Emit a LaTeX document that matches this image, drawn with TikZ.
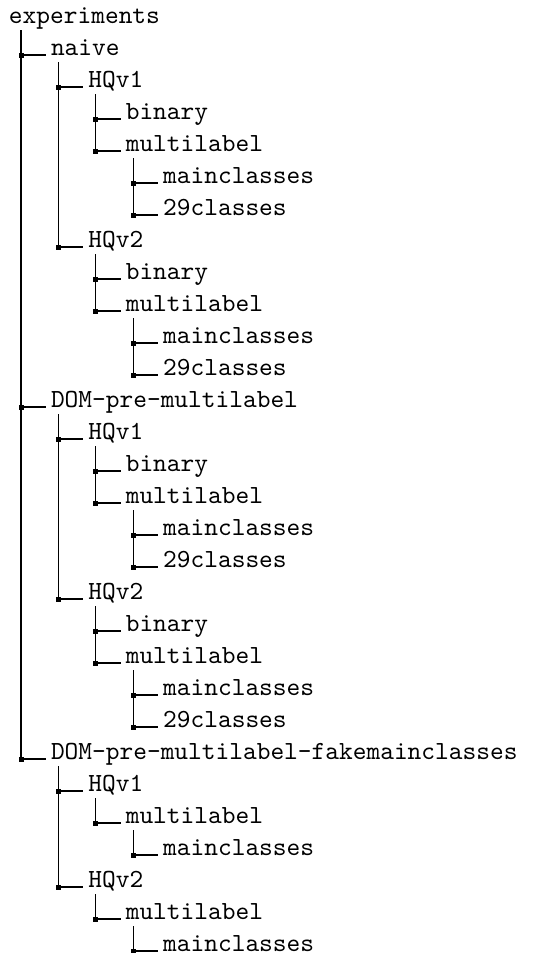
\documentclass[tikz,border=0pt]{standalone}
\usepackage{fontspec}
\setmonofont{lmmono10-regular.otf}
% directory tree of the experiment folders
\tikzset{
  lbl/.style={anchor=base west, inner sep=0pt, outer sep=0pt,
    font=\fontsize{9.8}{12}\selectfont\ttfamily},
  tline/.style={draw=black, line width=0.45pt},
  tdot/.style={fill=black}
}
% \kid{parent}{child}{offset of the parent's rule}
\newcommand{\kid}[3]{%
  \draw[tline] ([shift={(#3,7)}]#1.base west) |- ([shift={(-5,0)}]#2.base west);
  \fill[tdot] ([shift={(-32.5,-2.5)}]#2.base west) rectangle ++(5,5);
}
\begin{document}
\begin{tikzpicture}[x=0.375pt,y=-0.375pt]
\useasboundingbox (0,0) rectangle (533,953);
\def\rh{32}
% folder labels, one per row
\node[lbl] (ex)    at (9,    {23+0*\rh})  {experiments};
\node[lbl] (a)     at (51,   {23+1*\rh})  {naive};
\node[lbl] (a1)    at (88.4, {23+2*\rh})  {HQv1};
\node[lbl] (a1b)   at (125.8,{23+3*\rh})  {binary};
\node[lbl] (a1m)   at (125.8,{23+4*\rh})  {multilabel};
\node[lbl] (a1mm)  at (163.2,{23+5*\rh})  {mainclasses};
\node[lbl] (a1mn)  at (163.2,{23+6*\rh})  {29classes};
\node[lbl] (a2)    at (88.4, {23+7*\rh})  {HQv2};
\node[lbl] (a2b)   at (125.8,{23+8*\rh})  {binary};
\node[lbl] (a2m)   at (125.8,{23+9*\rh})  {multilabel};
\node[lbl] (a2mm)  at (163.2,{23+10*\rh}) {mainclasses};
\node[lbl] (a2mn)  at (163.2,{23+11*\rh}) {29classes};
\node[lbl] (b)     at (51,   {23+12*\rh}) {DOM-pre-multilabel};
\node[lbl] (b1)    at (88.4, {23+13*\rh}) {HQv1};
\node[lbl] (b1b)   at (125.8,{23+14*\rh}) {binary};
\node[lbl] (b1m)   at (125.8,{23+15*\rh}) {multilabel};
\node[lbl] (b1mm)  at (163.2,{23+16*\rh}) {mainclasses};
\node[lbl] (b1mn)  at (163.2,{23+17*\rh}) {29classes};
\node[lbl] (b2)    at (88.4, {23+18*\rh}) {HQv2};
\node[lbl] (b2b)   at (125.8,{23+19*\rh}) {binary};
\node[lbl] (b2m)   at (125.8,{23+20*\rh}) {multilabel};
\node[lbl] (b2mm)  at (163.2,{23+21*\rh}) {mainclasses};
\node[lbl] (b2mn)  at (163.2,{23+22*\rh}) {29classes};
\node[lbl] (c)     at (51,   {23+23*\rh}) {DOM-pre-multilabel-fakemainclasses};
\node[lbl] (c1)    at (88.4, {23+24*\rh}) {HQv1};
\node[lbl] (c1m)   at (125.8,{23+25*\rh}) {multilabel};
\node[lbl] (c1mm)  at (163.2,{23+26*\rh}) {mainclasses};
\node[lbl] (c2)    at (88.4, {23+27*\rh}) {HQv2};
\node[lbl] (c2m)   at (125.8,{23+28*\rh}) {multilabel};
\node[lbl] (c2mm)  at (163.2,{23+29*\rh}) {mainclasses};
% branches
\kid{ex}{a}{12} \kid{ex}{b}{12} \kid{ex}{c}{12}
\kid{a}{a1}{7.4} \kid{a}{a2}{7.4}
\kid{a1}{a1b}{7.4} \kid{a1}{a1m}{7.4}
\kid{a1m}{a1mm}{7.4} \kid{a1m}{a1mn}{7.4}
\kid{a2}{a2b}{7.4} \kid{a2}{a2m}{7.4}
\kid{a2m}{a2mm}{7.4} \kid{a2m}{a2mn}{7.4}
\kid{b}{b1}{7.4} \kid{b}{b2}{7.4}
\kid{b1}{b1b}{7.4} \kid{b1}{b1m}{7.4}
\kid{b1m}{b1mm}{7.4} \kid{b1m}{b1mn}{7.4}
\kid{b2}{b2b}{7.4} \kid{b2}{b2m}{7.4}
\kid{b2m}{b2mm}{7.4} \kid{b2m}{b2mn}{7.4}
\kid{c}{c1}{7.4} \kid{c}{c2}{7.4}
\kid{c1}{c1m}{7.4} \kid{c1m}{c1mm}{7.4}
\kid{c2}{c2m}{7.4} \kid{c2m}{c2mm}{7.4}
\end{tikzpicture}
\end{document}
